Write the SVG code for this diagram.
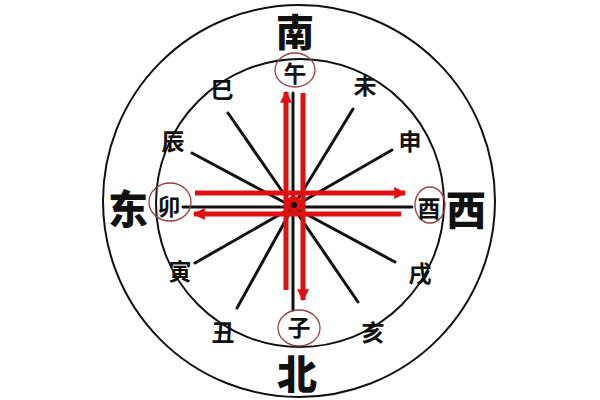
<svg xmlns="http://www.w3.org/2000/svg" width="600" height="400" viewBox="0 0 600 400">
<defs>
<style>
.ring{fill:none;stroke:#111;stroke-width:2}
.spoke{stroke:#111;stroke-width:3;stroke-linecap:round}
.red{stroke:#e01010;stroke-width:5;fill:none}
.mark{fill:none;stroke:#9a4040;stroke-width:1.3}
.br{font-family:"Noto Sans CJK SC","Noto Sans CJK JP",sans-serif;font-size:23px;font-weight:bold;fill:#111;text-anchor:middle;dominant-baseline:central}
.dir{font-family:"Noto Sans CJK SC","Noto Sans CJK JP",sans-serif;font-size:40px;font-weight:900;fill:#111;text-anchor:middle;dominant-baseline:central}
</style>
<marker id="ah" viewBox="0 0 10 10" refX="9" refY="5" markerWidth="2.6" markerHeight="2.4" orient="auto" markerUnits="strokeWidth">
<path d="M0,0 L10,5 L0,10 Z" fill="#e01010"/>
</marker>
</defs>
<rect width="600" height="400" fill="#fff"/>
<g id="rings">
<circle class="ring" cx="299" cy="201" r="196"/>
<circle class="ring" cx="300" cy="203" r="144"/>
</g>
<g id="connectors">
<line class="spoke" x1="293" y1="207" x2="293" y2="93"/>
<line class="spoke" x1="293" y1="207" x2="293" y2="310"/>
<line class="spoke" x1="293" y1="207" x2="183" y2="207"/>
<line class="spoke" x1="293" y1="207" x2="412" y2="207"/>
<line class="spoke" x1="293" y1="207" x2="228" y2="113"/>
<line class="spoke" x1="293" y1="207" x2="192" y2="153"/>
<line class="spoke" x1="293" y1="207" x2="353" y2="109"/>
<line class="spoke" x1="293" y1="207" x2="392" y2="150"/>
<line class="spoke" x1="293" y1="207" x2="195" y2="263"/>
<line class="spoke" x1="293" y1="207" x2="237" y2="308"/>
<line class="spoke" x1="293" y1="207" x2="358" y2="302"/>
<line class="spoke" x1="293" y1="207" x2="395" y2="262"/>
<circle cx="294" cy="204" r="8" fill="#e01010"/>
<line class="red" x1="286" y1="290" x2="286" y2="92" marker-end="url(#ah)"/>
<line class="red" x1="303" y1="93" x2="303" y2="300" marker-end="url(#ah)"/>
<line class="red" x1="195" y1="193" x2="405" y2="193" marker-end="url(#ah)"/>
<line class="red" x1="401" y1="214" x2="194" y2="214" marker-end="url(#ah)"/>
<circle cx="294" cy="205" r="3" fill="#111"/>
</g>
<g id="n-wu"><ellipse class="mark" cx="295" cy="70" rx="20" ry="17"/><text class="br" x="295" y="72">午</text></g>
<g id="n-zi"><ellipse class="mark" cx="299" cy="328" rx="21" ry="18"/><text class="br" x="299" y="326">子</text></g>
<g id="n-mao"><ellipse class="mark" cx="170" cy="202" rx="21" ry="19"/><text class="br" x="169" y="205">卯</text></g>
<g id="n-you"><ellipse class="mark" cx="430" cy="205" rx="15" ry="18"/><text class="br" x="429" y="207">酉</text></g>
<g id="n-si"><text class="br" x="222" y="88">巳</text></g>
<g id="n-wei"><text class="br" x="365" y="84">未</text></g>
<g id="n-chen"><text class="br" x="173" y="140">辰</text></g>
<g id="n-shen"><text class="br" x="410" y="140">申</text></g>
<g id="n-yin"><text class="br" x="180" y="270">寅</text></g>
<g id="n-xu"><text class="br" x="420" y="272">戌</text></g>
<g id="n-chou"><text class="br" x="223" y="331">丑</text></g>
<g id="n-hai"><text class="br" x="373" y="331">亥</text></g>
<g id="d-south"><text class="dir" x="295" y="29" style="font-size:38px">南</text></g>
<g id="d-north"><text class="dir" x="297" y="372">北</text></g>
<g id="d-east"><text class="dir" x="128" y="207">东</text></g>
<g id="d-west"><text class="dir" x="466" y="208">西</text></g>
</svg>
